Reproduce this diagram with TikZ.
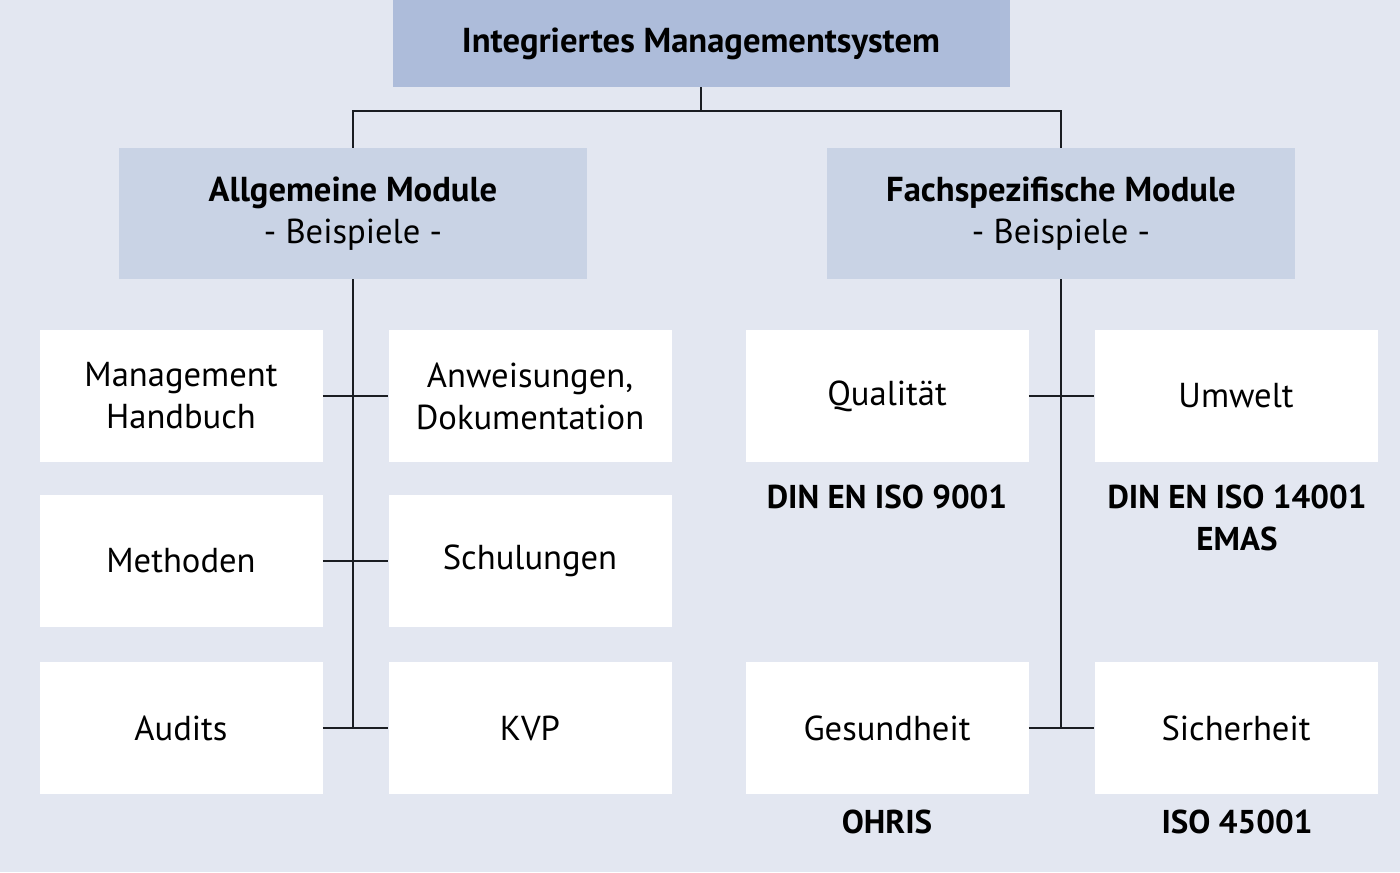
\documentclass[tikz,border=0pt]{standalone}
\usepackage{fontspec}
\setmainfont{PT Sans}
\usepackage{tikz}
\definecolor{bgblue}{HTML}{E3E7F1}
\definecolor{topblue}{HTML}{ADBCDA}
\definecolor{midblue}{HTML}{C9D3E5}
\definecolor{linegray}{HTML}{1A1D22}

\begin{document}
\begin{tikzpicture}[x=0.5pt,y=-0.5pt,
    topbox/.style={fill=topblue, minimum width=308.5pt, minimum height=43.5pt,
      font=\fontsize{17.3}{21}\selectfont\bfseries},
    midbox/.style={fill=midblue, minimum width=234pt, minimum height=65.5pt,
      align=center, font=\fontsize{17.3}{21}\selectfont},
    modbox/.style={fill=white, minimum width=141.5pt, minimum height=66pt,
      align=center, font=\fontsize{17.3}{21}\selectfont},
    normlabel/.style={align=center, font=\fontsize{16.5}{21}\selectfont\bfseries},
    link/.style={draw=linegray, line width=1pt}]
    \fill [bgblue] (0,0) rectangle (1400,872);
    \useasboundingbox (0,0) rectangle (1400,872);

    % top level
    \node [topbox] (ims) at (701,43.5) {Integriertes Managementsystem};
    \node [midbox] (allg) at (353,213.5) {\textbf{Allgemeine Module}\\- Beispiele -};
    \node [midbox] (fach) at (1061,213.5) {\textbf{Fachspezifische Module}\\- Beispiele -};

    % allgemeine Module
    \node [modbox] (handbuch) at (181,396) {Management\\Handbuch};
    \node [modbox] (anweis) at (530,396) {Anweisungen,\\Dokumentation};
    \node [modbox] (methoden) at (181,561) {Methoden};
    \node [modbox] (schulung) at (530,561) {Schulungen};
    \node [modbox] (audits) at (181,728) {Audits};
    \node [modbox] (kvp) at (530,728) {KVP};

    % fachspezifische Module
    \node [modbox] (qual) at (887,396) {Qualität};
    \node [modbox] (umwelt) at (1236,396) {Umwelt};
    \node [modbox] (gesund) at (887,728) {Gesundheit};
    \node [modbox] (sicher) at (1236,728) {Sicherheit};

    \node [normlabel] (iso9001) at (887,497) {DIN EN ISO 9001};
    \node [normlabel] (iso14001) at (1237,518) {DIN EN ISO 14001\\EMAS};
    \node [normlabel] (ohris) at (887,822) {OHRIS};
    \node [normlabel] (iso45001) at (1237,822) {ISO 45001};

    % connectors
    \coordinate (split) at (701,111);
    \draw [link] (ims.south) -- (split);
    \draw [link] (allg.north) |- (split) -| (fach.north);

    \draw [link] (allg.south) -- (allg.south |- audits.east);
    \draw [link] (handbuch.east) -- (anweis.west);
    \draw [link] (methoden.east) -- (schulung.west);
    \draw [link] (audits.east) -- (kvp.west);

    \draw [link] (fach.south) -- (fach.south |- gesund.east);
    \draw [link] (qual.east) -- (umwelt.west);
    \draw [link] (gesund.east) -- (sicher.west);
  \end{tikzpicture}
\end{document}
